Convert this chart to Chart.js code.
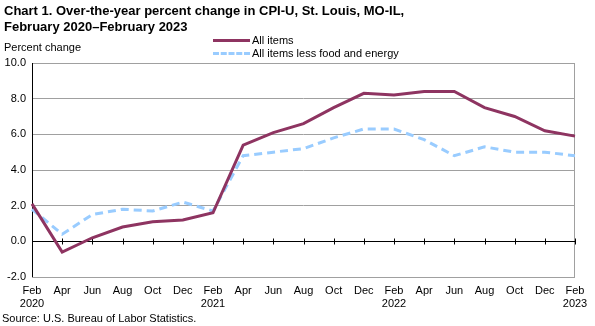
<!DOCTYPE html>
<html>
<head>
<meta charset="utf-8">
<script src="https://cdn.jsdelivr.net/npm/chart.js@4/dist/chart.umd.min.js"></script>
<style>
  body { margin: 0; background: #fff; font-family: Arial, "Liberation Sans", sans-serif; }
  #wrap { position: relative; width: 595px; height: 326px; }
  #myChart { position: absolute; left: 0; top: 0; }
  .title { position: absolute; left: 4px; top: 3px; font-weight: bold; font-size: 13px; line-height: 15.5px; color: #000; }
  .ylabel { position: absolute; left: 4px; top: 41px; font-size: 11px; color: #000; }
  .legend { position: absolute; left: 213px; top: 34px; font-size: 11px; line-height: 13px; color: #000; }
  .legend div { display: flex; align-items: center; }
  .legend span.l { display: inline-block; width: 37px; height: 0; margin-right: 2px; }
  .source { position: absolute; left: 2px; top: 312px; font-size: 11px; color: #000; }
</style>
</head>
<body>
<div id="wrap">
  <canvas id="myChart" width="595" height="326"></canvas>
  <div class="title">Chart 1. Over-the-year percent change in CPI-U, St. Louis, MO-IL,<br>February 2020–February 2023</div>
  <div class="ylabel">Percent change</div>
  <div class="legend">
    <div><span class="l" style="border-top:3px solid #8e3461"></span>All items</div>
    <div><span class="l" style="border-top:3px dashed #99ccff"></span>All items less food and energy</div>
  </div>
  <div class="source">Source: U.S. Bureau of Labor Statistics.</div>
</div>
<script>
// Datos
const meses = [
    ['Feb', '2020'], 'Apr', 'Jun', 'Aug', 'Oct', 'Dec',
    ['Feb', '2021'], 'Apr', 'Jun', 'Aug', 'Oct', 'Dec',
    ['Feb', '2022'], 'Apr', 'Jun', 'Aug', 'Oct', 'Dec',
    ['Feb', '2023']
];
const todos = [2.1, -0.6, 0.2, 0.8, 1.1, 1.2, 1.6, 5.4, 6.1, 6.6, 7.5, 8.3, 8.2, 8.4, 8.4, 7.5, 7.0, 6.2, 5.9];
const sinAlimentos = [1.8, 0.4, 1.5, 1.8, 1.7, 2.2, 1.7, 4.8, 5.0, 5.2, 5.8, 6.3, 6.3, 5.7, 4.8, 5.3, 5.0, 5.0, 4.8];
const yMin = -2, yMax = 10, yStep = 2;

// linea del cero con marcas y borde del area
const ejeCero = {
    id: 'ejeCero',
    beforeDatasetsDraw(chart) {
        const {ctx, chartArea, scales} = chart;
        ctx.save();
        ctx.strokeStyle = '#a0a0a0';
        ctx.lineWidth = 1;
        ctx.strokeRect(chartArea.left + 0.5, chartArea.top + 0.5, chartArea.width - 1, chartArea.height);
        const y0 = Math.round(scales.y.getPixelForValue(0)) + 0.5;
        ctx.strokeStyle = '#000';
        ctx.beginPath();
        ctx.moveTo(chartArea.left, y0);
        ctx.lineTo(chartArea.right, y0);
        ctx.moveTo(chartArea.left + 0.5, chartArea.top);
        ctx.lineTo(chartArea.left + 0.5, chartArea.bottom);
        for (let i = 0; i < meses.length; i++) {
            const x = Math.round(scales.x.getPixelForValue(i)) + 0.5;
            ctx.moveTo(x, y0 - 3);
            ctx.lineTo(x, y0 + 3);
        }
        ctx.stroke();
        ctx.restore();
    }
};

const ctx = document.getElementById('myChart');

new Chart(ctx, {
    type: 'line',
    data: {
        labels: meses,
        datasets: [{
            label: 'All items',
            data: todos,
            borderColor: '#8e3461',
            borderWidth: 3,
            pointRadius: 0,
            tension: 0
        }, {
            label: 'All items less food and energy',
            data: sinAlimentos,
            borderColor: '#99ccff',
            borderWidth: 3,
            borderDash: [8, 5],
            pointRadius: 0,
            tension: 0
        }]
    },
    options: {
        responsive: false,
        animation: false,
        layout: { padding: { left: 0, right: 20, top: 63, bottom: 0 } },
        plugins: { legend: { display: false }, tooltip: { enabled: false } },
        scales: {
            x: {
                offset: false,
                grid: { display: false, drawTicks: false },
                border: { display: false },
                ticks: { color: '#000', font: { family: 'Arial', size: 11 }, maxRotation: 0, autoSkip: false, padding: 7 },
                afterFit(scale) { scale.height = 49; }
            },
            y: {
                min: yMin,
                max: yMax,
                grid: { color: '#a0a0a0', drawTicks: false },
                border: { display: false },
                ticks: {
                    stepSize: yStep,
                    color: '#000',
                    font: { family: 'Arial', size: 11 },
                    padding: 6,
                    callback: v => v.toFixed(1)
                },
                afterFit(scale) { scale.width = 32; }
            }
        }
    },
    plugins: [ejeCero]
});
</script>
</body>
</html>
